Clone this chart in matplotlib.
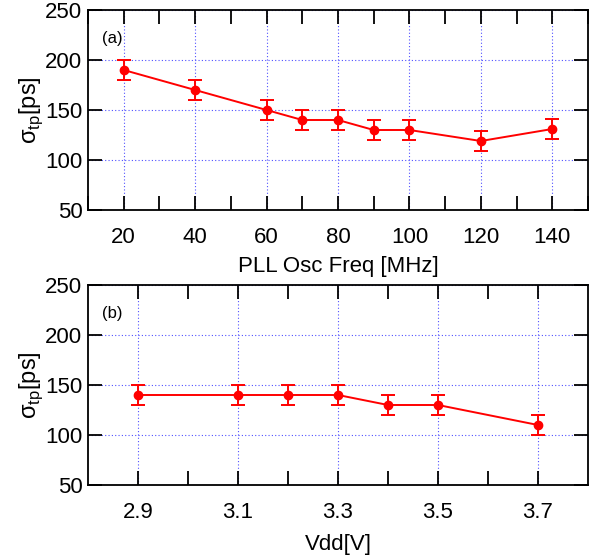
import matplotlib
matplotlib.use("Agg")
import matplotlib.pyplot as plt
from matplotlib.ticker import MultipleLocator, FixedLocator

plt.rcParams['font.family'] = ['Liberation Sans', 'DejaVu Sans']
plt.rcParams['mathtext.fontset'] = 'custom'
plt.rcParams['mathtext.rm'] = 'Liberation Sans'

# (a) jitter vs PLL oscillator frequency
freq = [20, 40, 60, 70, 80, 90, 100, 120, 140]
sigma_freq = [190, 170, 150, 140, 140, 130, 130, 119, 131]
err_freq = [10, 10, 10, 10, 10, 10, 10, 10, 10]

# (b) jitter vs supply voltage
vdd = [2.9, 3.1, 3.2, 3.3, 3.4, 3.5, 3.7]
sigma_vdd = [140, 140, 140, 140, 130, 130, 110]
err_vdd = [10, 10, 10, 10, 10, 10, 10]

fig = plt.figure(figsize=(5.96, 5.59), dpi=100)
ax1 = fig.add_axes([88/596, 1 - 210/559, 500/596, 200/559])
ax2 = fig.add_axes([88/596, 1 - 485/559, 500/596, 200/559])


def style(ax):
    ax.set_ylim(50, 250)
    ax.yaxis.set_major_locator(MultipleLocator(50))
    ax.grid(True, which='major', color='#5050ff', linestyle=(0, (1, 2)), linewidth=0.8)
    ax.tick_params(which='both', direction='in', top=True, right=True,
                   labelsize=16, width=1.3, length=10)
    ax.tick_params(axis='x', pad=12)
    ax.tick_params(axis='y', pad=4)
    for s in ax.spines.values():
        s.set_linewidth(1.3)
    ax.set_ylabel('σ$_{\\rm tp}$[ps]', fontsize=17, labelpad=0)


ax1.errorbar(freq, sigma_freq, yerr=err_freq, color='red', marker='o', markersize=6,
             capsize=5, elinewidth=1.4, capthick=1.4, linewidth=1.4)
ax1.set_xlim(10, 150)
ax1.xaxis.set_major_locator(MultipleLocator(20))
ax1.xaxis.set_minor_locator(MultipleLocator(10))
style(ax1)
ax1.set_xlabel('PLL Osc Freq [MHz]', fontsize=16, labelpad=6)
ax1.text(0.028, 0.835, '(a)', transform=ax1.transAxes, fontsize=12)

ax2.errorbar(vdd, sigma_vdd, yerr=err_vdd, color='red', marker='o', markersize=6,
             capsize=5, elinewidth=1.4, capthick=1.4, linewidth=1.4)
ax2.set_xlim(2.8, 3.8)
ax2.xaxis.set_major_locator(FixedLocator([2.9, 3.1, 3.3, 3.5, 3.7]))
ax2.xaxis.set_minor_locator(FixedLocator([3.0, 3.2, 3.4, 3.6]))
style(ax2)
ax2.set_xticklabels(['2.9', '3.1', '3.3', '3.5', '3.7'])
ax2.set_xlabel('Vdd[V]', fontsize=16, labelpad=8)
ax2.text(0.028, 0.835, '(b)', transform=ax2.transAxes, fontsize=12)

fig.savefig('out.png', dpi=100)
